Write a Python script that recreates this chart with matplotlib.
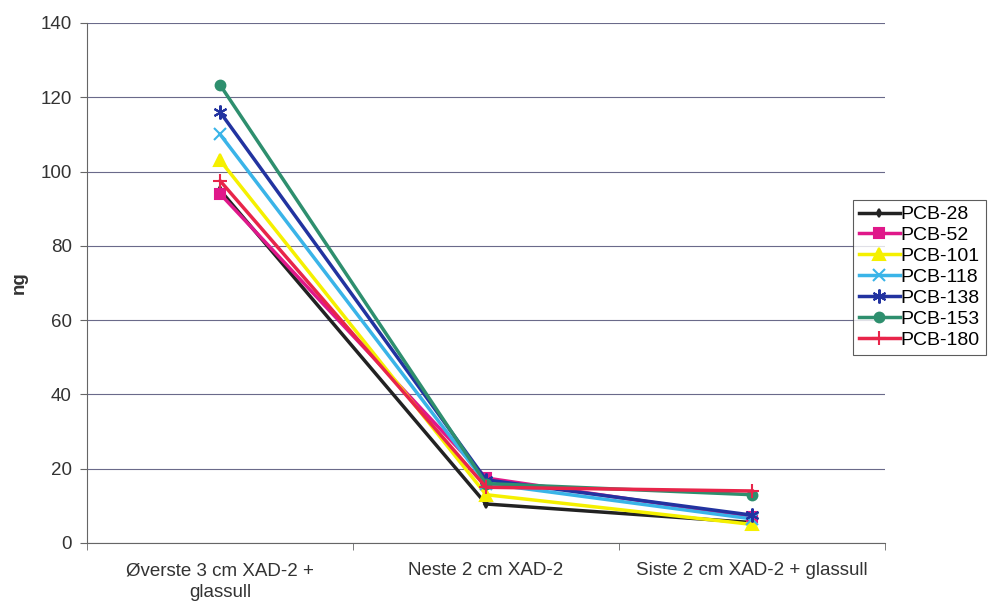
import matplotlib.pyplot as plt

plt.rcParams['font.family'] = ['Liberation Sans', 'DejaVu Sans']

kategorier = ['Øverste 3 cm XAD-2 +\nglassull', 'Neste 2 cm XAD-2', 'Siste 2 cm XAD-2 + glassull']

pcb28 = [95, 10.5, 5.5]
pcb52 = [94, 17.5, 7]
pcb101 = [103, 13, 5]
pcb118 = [110, 16, 6.5]
pcb138 = [116, 17, 7.5]
pcb153 = [123.3, 16, 13]
pcb180 = [97.5, 15, 14]

serier = [
    ('PCB-28', pcb28, '#222222', 'd', 4),
    ('PCB-52', pcb52, '#e0188a', 's', 7),
    ('PCB-101', pcb101, '#f5f000', '^', 8),
    ('PCB-118', pcb118, '#3ab4e8', 'x', 8),
    ('PCB-138', pcb138, '#2233a0', (6, 2, 0), 10),
    ('PCB-153', pcb153, '#2e8f6e', 'o', 7),
    ('PCB-180', pcb180, '#e8254a', '+', 10),
]

fig = plt.figure(figsize=(9.9, 6.04), dpi=100)
ax = fig.add_axes([0.088, 0.101, 0.806, 0.861])

x = list(range(len(kategorier)))
for navn, verdier, farge, mk, ms in serier:
    ax.plot(x, verdier, color=farge, marker=mk, markersize=ms, linewidth=2.5,
            markeredgewidth=1.5, label=navn)

ax.set_xlim(-0.5, 2.5)
ax.set_ylim(0, 140)
ax.set_yticks(range(0, 141, 20))
ax.set_xticks(x)
ax.set_xticklabels(kategorier, fontsize=13.5, color='#333333', linespacing=1.35)
ax.set_xticks([-0.5, 0.5, 1.5, 2.5], minor=True)
ax.tick_params(axis='x', which='major', length=0, pad=14)
ax.tick_params(axis='x', which='minor', length=5, color='#666666')
ax.tick_params(axis='y', labelsize=13.5, labelcolor='#333333', color='#666666', length=5, pad=6)
ax.yaxis.grid(True, color='#6a6a8a', linewidth=0.8)
ax.set_axisbelow(True)
for s in ['top', 'right']:
    ax.spines[s].set_visible(False)
for s in ['left', 'bottom']:
    ax.spines[s].set_color('#666666')
ax.set_ylabel('ng', fontsize=13.5, fontweight='bold', color='#333333', labelpad=9)

leg = ax.legend(loc='center left', bbox_to_anchor=(0.96, 0.511), fontsize=14,
                frameon=True, fancybox=False, edgecolor='#333333',
                handlelength=2.1, handletextpad=0.05, borderpad=0.3,
                labelspacing=0.17, borderaxespad=0)
leg.get_frame().set_linewidth(0.8)

fig.savefig('out.png', dpi=100)
